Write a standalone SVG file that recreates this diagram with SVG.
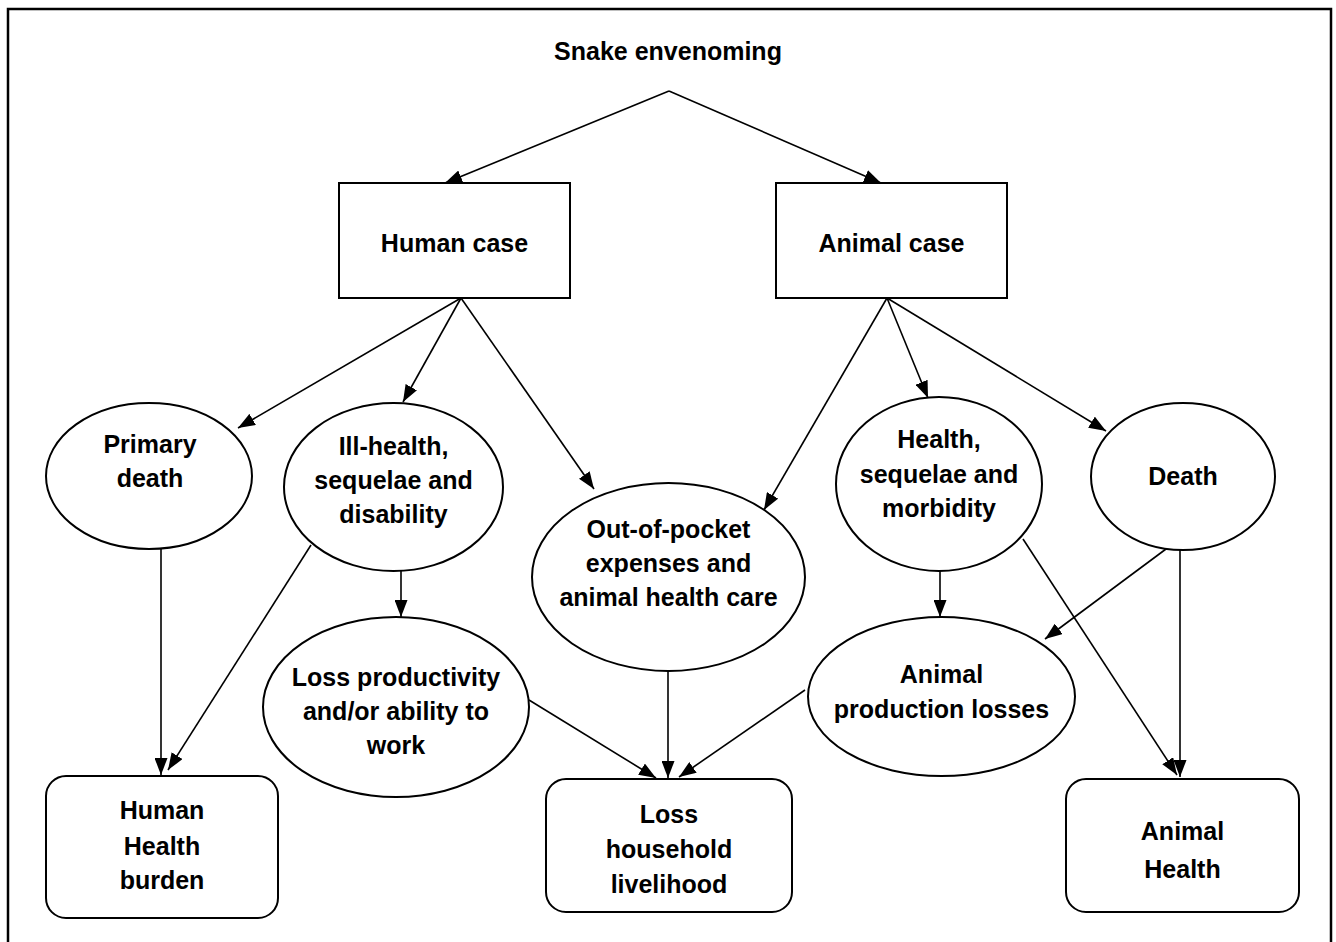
<svg xmlns="http://www.w3.org/2000/svg" width="1336" height="942" viewBox="0 0 1336 942">
<style>
.t{font-family:"Liberation Sans",Arial,sans-serif;font-weight:bold;font-size:25px;fill:#000;text-anchor:middle}
.n{fill:#fff;stroke:#000;stroke-width:2}
.c line{stroke:#000;stroke-width:1.6;fill:none}
</style>
<defs>
<marker id="ah" viewBox="0 0 17 13" refX="17" refY="6.5" markerWidth="17" markerHeight="13" markerUnits="userSpaceOnUse" orient="auto">
<path d="M0,0 L17,6.5 L0,13 z" fill="#000"/>
</marker>
</defs>
<rect x="0" y="0" width="1336" height="942" fill="#fff"/>
<rect x="8" y="9" width="1323" height="945" fill="none" stroke="#000" stroke-width="2.5"/>
<g id="connectors" class="c">
<line x1="669" y1="91" x2="445" y2="183" marker-end="url(#ah)"/>
<line x1="669" y1="91" x2="881" y2="183" marker-end="url(#ah)"/>
<line x1="461" y1="298" x2="238" y2="428" marker-end="url(#ah)"/>
<line x1="461" y1="298" x2="403" y2="402" marker-end="url(#ah)"/>
<line x1="461" y1="298" x2="594" y2="489" marker-end="url(#ah)"/>
<line x1="887" y1="298" x2="764" y2="510" marker-end="url(#ah)"/>
<line x1="887" y1="298" x2="928" y2="398" marker-end="url(#ah)"/>
<line x1="887" y1="298" x2="1106" y2="431" marker-end="url(#ah)"/>
<line x1="161" y1="549" x2="161" y2="775" marker-end="url(#ah)"/>
<line x1="311" y1="545" x2="168" y2="770" marker-end="url(#ah)"/>
<line x1="401" y1="571" x2="401" y2="617" marker-end="url(#ah)"/>
<line x1="529" y1="700" x2="656" y2="778" marker-end="url(#ah)"/>
<line x1="668" y1="671" x2="668" y2="778" marker-end="url(#ah)"/>
<line x1="805" y1="690" x2="679" y2="777" marker-end="url(#ah)"/>
<line x1="940" y1="571" x2="940" y2="617" marker-end="url(#ah)"/>
<line x1="1166" y1="549" x2="1045" y2="639" marker-end="url(#ah)"/>
<line x1="1023" y1="539" x2="1177" y2="775" marker-end="url(#ah)"/>
<line x1="1180" y1="550" x2="1180" y2="777" marker-end="url(#ah)"/>
</g>
<g id="snake"><text class="t" x="668" y="60">Snake envenoming</text></g>
<g id="human-case"><rect class="n" x="339" y="183" width="231" height="115"/><text class="t" x="454.5" y="252">Human case</text></g>
<g id="animal-case"><rect class="n" x="776" y="183" width="231" height="115"/><text class="t" x="891.5" y="252">Animal case</text></g>
<g id="primary-death"><ellipse class="n" cx="149" cy="476" rx="103" ry="73"/><text class="t" x="150" y="453">Primary</text><text class="t" x="150" y="487">death</text></g>
<g id="ill-health"><ellipse class="n" cx="393.5" cy="487" rx="109.5" ry="84"/><text class="t" x="393.5" y="455">Ill-health,</text><text class="t" x="393.5" y="489">sequelae and</text><text class="t" x="393.5" y="523">disability</text></g>
<g id="out-of-pocket"><ellipse class="n" cx="668.5" cy="577" rx="136.5" ry="94"/><text class="t" x="668.5" y="538">Out-of-pocket</text><text class="t" x="668.5" y="572">expenses and</text><text class="t" x="668.5" y="606">animal health care</text></g>
<g id="health-sequelae"><ellipse class="n" cx="939" cy="484" rx="103" ry="87"/><text class="t" x="939" y="448">Health,</text><text class="t" x="939" y="483">sequelae and</text><text class="t" x="939" y="517">morbidity</text></g>
<g id="death"><ellipse class="n" cx="1183" cy="476.5" rx="92" ry="73.5"/><text class="t" x="1183" y="485">Death</text></g>
<g id="loss-productivity"><ellipse class="n" cx="396" cy="707" rx="133" ry="90"/><text class="t" x="396" y="686">Loss productivity</text><text class="t" x="396" y="720">and/or ability to</text><text class="t" x="396" y="754">work</text></g>
<g id="animal-production"><ellipse class="n" cx="941.5" cy="696.5" rx="133.5" ry="79.5"/><text class="t" x="941.5" y="683">Animal</text><text class="t" x="941.5" y="718">production losses</text></g>
<g id="human-health-burden"><rect class="n" x="46" y="776" width="232" height="142" rx="20"/><text class="t" x="162" y="819">Human</text><text class="t" x="162" y="855">Health</text><text class="t" x="162" y="889">burden</text></g>
<g id="loss-household"><rect class="n" x="546" y="779" width="246" height="133" rx="20"/><text class="t" x="669" y="823">Loss</text><text class="t" x="669" y="858">household</text><text class="t" x="669" y="893">livelihood</text></g>
<g id="animal-health"><rect class="n" x="1066" y="779" width="233" height="133" rx="20"/><text class="t" x="1182.5" y="840">Animal</text><text class="t" x="1182.5" y="878">Health</text></g>
</svg>
